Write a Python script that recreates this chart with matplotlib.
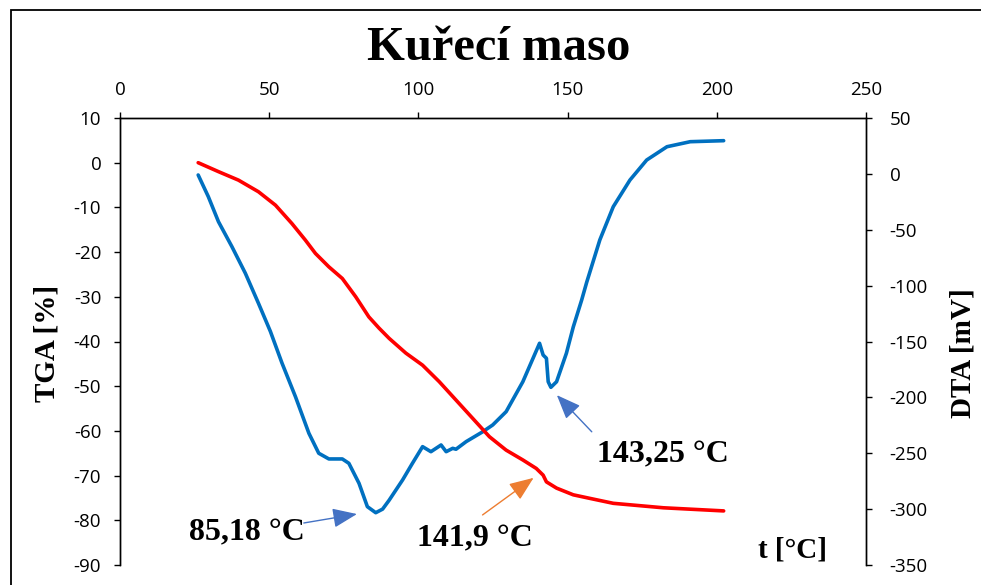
import matplotlib
matplotlib.use("Agg")
import matplotlib.pyplot as plt
from matplotlib.patches import Rectangle

# TGA (red, left axis)
t_tga = [26.2, 33.0, 39.7, 46.4, 52.1, 57.6, 62.1, 65.5, 70.0, 74.5, 79.0, 83.4,
         86.8, 90.2, 95.8, 101.4, 107.0, 112.6, 118.2, 123.8, 129.4, 135.0, 139.5,
         141.8, 142.9, 146.3, 151.9, 157.5, 165.3, 182.1, 202.3]
tga = [0.0, -2.0, -3.9, -6.5, -9.5, -13.6, -17.3, -20.3, -23.3, -25.9, -30.0, -34.5,
       -37.0, -39.3, -42.6, -45.3, -49.0, -53.1, -57.2, -61.3, -64.3, -66.5, -68.4,
       -69.9, -71.4, -72.8, -74.3, -75.1, -76.2, -77.2, -77.9]

# DTA (blue, right axis)
t_dta = [26.2, 29.6, 33.0, 37.5, 42.0, 46.4, 50.4, 54.3, 58.8, 63.3, 66.6, 70.0,
         74.5, 76.7, 80.1, 82.9, 85.7, 88.0, 90.2, 94.7, 98.0, 101.4, 104.2, 107.6,
         109.3, 111.5, 112.6, 116.0, 121.6, 124.9, 129.4, 135.0, 140.6, 141.8, 142.9,
         143.5, 144.4, 146.3, 149.6, 151.9, 154.7, 156.4, 160.8, 165.3, 170.9, 176.5,
         183.3, 191.1, 202.3]
dta = [-1.0, -20.4, -42.8, -65.1, -88.9, -115.8, -141.0, -169.4, -199.4, -232.1, -250.0, -255.1,
       -255.1, -259.0, -276.9, -297.8, -303.2, -300.0, -292.0, -273.9, -259.0, -244.1, -248.6, -242.6,
       -248.6, -245.6, -246.4, -239.6, -230.7, -224.7, -212.8, -186.0, -151.6, -162.1, -165.0,
       -186.0, -191.0, -186.0, -160.5, -137.0, -113.0, -97.0, -59.1, -29.4, -5.5, 12.4,
       24.3, 28.8, 29.7]

x_ticks = [0, 50, 100, 150, 200, 250]
tga_ticks = list(range(-90, 11, 10))
dta_ticks = list(range(-350, 51, 50))

serif = "Liberation Serif"
tick_font = "Open Sans"

fig = plt.figure(figsize=(9.81, 5.85), dpi=100)
W, H = 981, 585
ax = fig.add_axes([120 / W, 1 - 565 / H, (866 - 120) / W, (565 - 118) / H])
ax2 = ax.twinx()

ax2.plot(t_dta, dta, color="#0070C0", lw=2.6, solid_joinstyle="round", solid_capstyle="round")
ax.plot(t_tga, tga, color="#FF0000", lw=2.6, solid_joinstyle="round", solid_capstyle="round")
ax.set_zorder(ax2.get_zorder() + 1)
ax.patch.set_visible(False)

ax.set_xlim(0, 250)
ax.set_ylim(-90, 10)
ax2.set_ylim(-350, 50)
ax.set_xticks(x_ticks)
ax.set_yticks(tga_ticks)
ax2.set_yticks(dta_ticks)
ax.set_yticklabels([str(v) for v in tga_ticks])
ax2.set_yticklabels([str(v) for v in dta_ticks])
ax.set_xticklabels([str(v) for v in x_ticks])

ax.xaxis.set_ticks_position("top")
ax.xaxis.set_label_position("top")
for a in (ax, ax2):
    a.spines["bottom"].set_visible(False)
    for s in ("top", "left", "right"):
        a.spines[s].set_linewidth(1.0)
        a.spines[s].set_color("black")
ax.tick_params(axis="x", direction="out", length=4.5, width=1.0, pad=9, labelsize=13.5)
ax.tick_params(axis="y", direction="out", length=4.5, width=1.0, pad=9, labelsize=13.5)
ax2.tick_params(axis="y", direction="out", length=4, width=1.0, pad=13, labelsize=13.5)
for lab in ax.get_xticklabels() + ax.get_yticklabels() + ax2.get_yticklabels():
    lab.set_fontfamily(tick_font)

fig.text(499 / W, 1 - 48 / H, "Kuřecí maso", family=serif, weight="bold", fontsize=35,
         ha="center", va="center")
fig.text(47 / W, 1 - 343 / H, "TGA [%]", family=serif, weight="bold", fontsize=21,
         rotation=90, ha="center", va="center")
fig.text(963 / W, 1 - 353 / H, "DTA [mV]", family=serif, weight="bold", fontsize=21,
         rotation=90, ha="center", va="center")

# annotations (text + arrows)
ax.text(42.4, -82.8, "85,18 °C", family=serif, weight="bold", fontsize=23, ha="center", va="center")
ax.text(118.8, -84.2, "141,9 °C", family=serif, weight="bold", fontsize=23, ha="center", va="center")
ax.text(182.0, -65.4, "143,25 °C", family=serif, weight="bold", fontsize=23, ha="center", va="center")
ax.text(225.4, -86.7, "t [°C]", family=serif, weight="bold", fontsize=21, ha="center", va="center")

arrow = "-|>,head_length=0.75,head_width=0.3"
ax.annotate("", xy=(79.4, -78.6), xytext=(61.6, -80.6),
            arrowprops=dict(arrowstyle=arrow, color="#4472C4", lw=1.0, mutation_scale=20,
                            shrinkA=0, shrinkB=0))
ax.annotate("", xy=(138.6, -70.5), xytext=(121.5, -78.8),
            arrowprops=dict(arrowstyle=arrow, color="#ED7D31", lw=1.0, mutation_scale=20,
                            shrinkA=0, shrinkB=0))
ax.annotate("", xy=(146.4, -52.0), xytext=(158.1, -60.2),
            arrowprops=dict(arrowstyle=arrow, color="#4472C4", lw=1.0, mutation_scale=20,
                            shrinkA=0, shrinkB=0))

# outer chart frame (only top and left edges visible)
fig.patches.append(Rectangle((11 / W, -0.5), 2.0, 1 - 9.5 / H + 0.5, transform=fig.transFigure,
                             fill=False, edgecolor="black", lw=1.3, clip_on=False))

fig.savefig("out.png", dpi=100)
